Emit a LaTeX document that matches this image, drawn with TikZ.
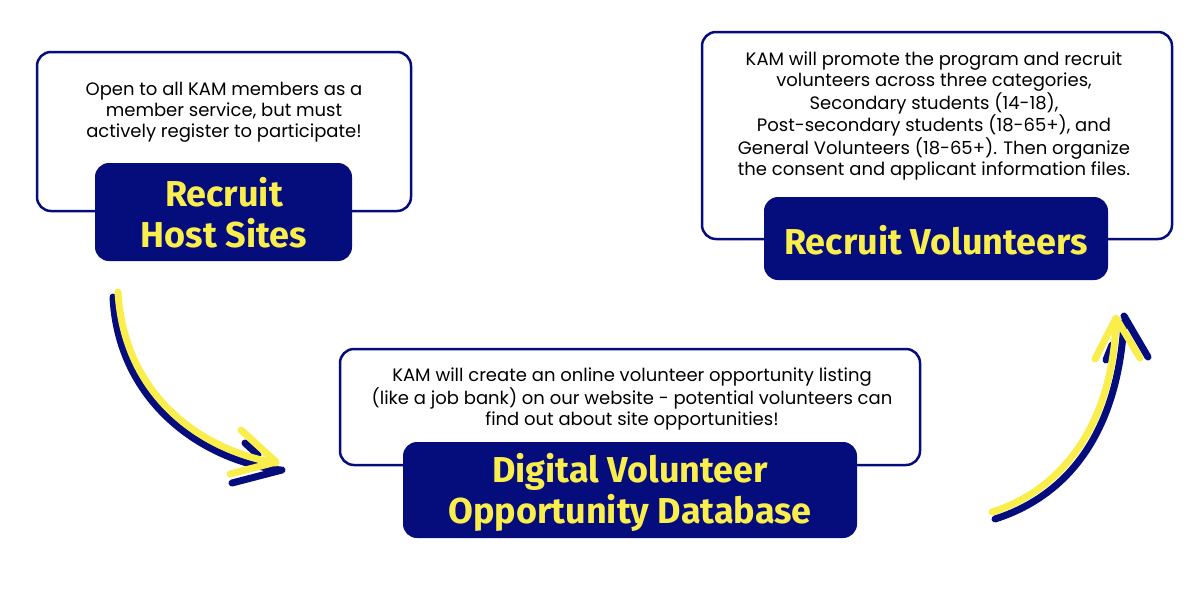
\documentclass[tikz,border=0pt]{standalone}
\usepackage{fontspec}
\setmainfont{Poppins}
\newfontfamily\titlefont{Fira Sans}[UprightFont=* Bold]
\definecolor{navy}{HTML}{050C7C}
\definecolor{yel}{HTML}{FAEE4C}
\begin{document}
\begin{tikzpicture}[x=1pt,y=-1pt,
  wbox/.style={draw=navy,line width=2.5pt,rounded corners=14pt,fill=white},
  dbox/.style={fill=navy,rounded corners=14pt},
  ttl/.style={text=yel,font=\titlefont\fontsize{36}{41}\selectfont,align=center},
  body/.style={text=black,font=\fontsize{18}{21}\selectfont,align=center},
  arr/.style={line width=7pt,line cap=round,line join=round}]
\useasboundingbox[fill=white] (0,0) rectangle (1200,600);
% box 1
\draw[wbox] (37,52) rectangle (411,211);
\fill[dbox] (95,163) rectangle (352,261);
\node[body] (b1) at (224,112) {Open to all KAM members as a\\member service, but must\\actively register to participate!};
\node[ttl] (t1) at (224,213) {Recruit\\Host Sites};
% box 2
\draw[wbox] (340,349) rectangle (920,465);
\fill[dbox] (403,442) rectangle (857,538);
\node[body] (b2) at (632,399) {KAM will create an online volunteer opportunity listing\\(like a job bank) on our website - potential volunteers can\\find out about site opportunities!};
\node[ttl] (t2) at (630,492) {Digital Volunteer\\Opportunity Database};
% box 3
\draw[wbox] (702,32) rectangle (1172,239);
\fill[dbox] (764,197) rectangle (1108,280);
\node[body] (b3) at (934,116) {KAM will promote the program and recruit\\volunteers across three categories,\\Secondary students (14-18),\\Post-secondary students (18-65+), and\\General Volunteers (18-65+). Then organize\\the consent and applicant information files.};
\node[ttl] (t3) at (936,240) {Recruit Volunteers};
% left arrow
\draw[arr,navy] (113,297) .. controls (118,400) and (200,460) .. (280,470);
\draw[arr,navy] (245,443) -- (258,455);
\draw[arr,navy] (282,470) -- (232,483);
\draw[arr,yel] (118,292) .. controls (124,395) and (200,450) .. (276,463);
\draw[arr,yel] (241,430) -- (276,462) -- (230,474);
% right arrow
\draw[arr,navy] (995,519) .. controls (1070,495) and (1118,430) .. (1124,322);
\draw[arr,navy] (1124,316) -- (1148,357);
\draw[arr,navy] (1106,360) -- (1112,345);
\draw[arr,yel] (992,512) .. controls (1062,490) and (1112,425) .. (1116,322);
\draw[arr,yel] (1095,359) -- (1116,318) -- (1140,358);
\end{tikzpicture}
\end{document}
